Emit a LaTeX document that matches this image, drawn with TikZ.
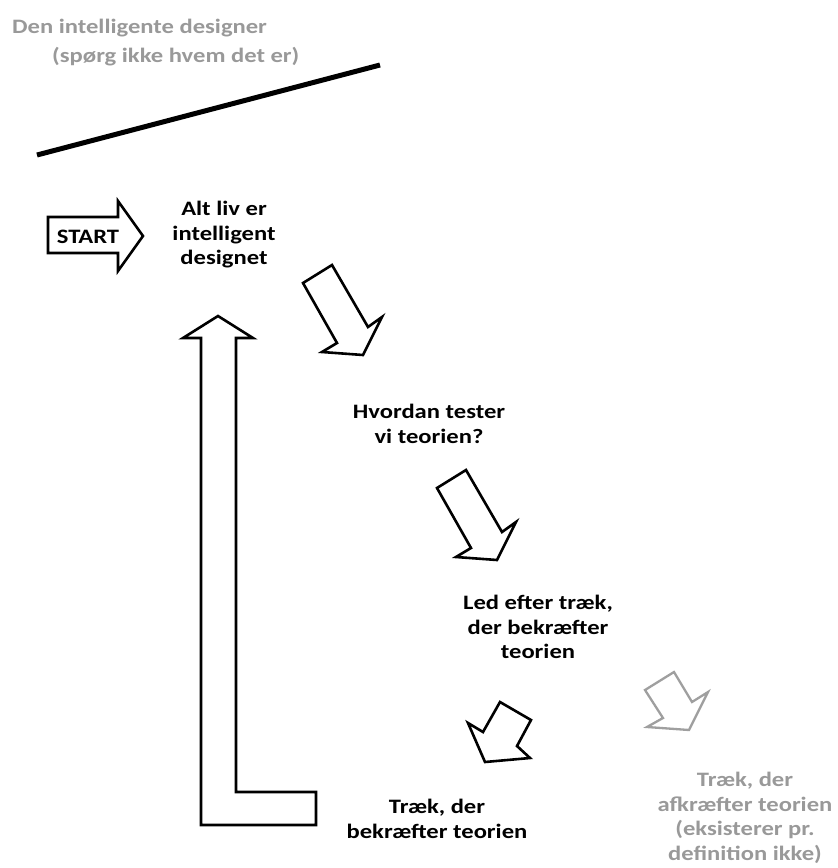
\documentclass[tikz,border=0pt]{standalone}
\usepackage{fontspec}
\setmainfont{Carlito}[FakeStretch=1.2]

\begin{document}
\begin{tikzpicture}[x=1pt,y=-1pt,
  label/.style={font=\fontsize{20.5}{24.5}\selectfont\bfseries, align=center, inner sep=0pt},
  faded/.style={text=gray!80},
  outline/.style={draw, line width=2.6pt, line join=miter, fill=white}]
\useasboundingbox (0,0) rectangle (838,868);

% The designer, up above
\node[label, faded, anchor=west] (designer) at (12,28) {Den intelligente designer};
\node[label, faded, anchor=west] (askno) at (52,57) {(spørg ikke hvem det er)};
\draw[line width=5pt] (37,155) -- (380,65);

% START arrow
\draw[outline] (48,217) -- (118,217) -- (118,201) -- (143,236) -- (118,271) -- (118,253) -- (48,253) -- cycle;
\node[label] (start) at (88,237) {START};

% Steps of the argument
\node[label] (alt) at (224,235) {Alt liv er\\intelligent\\designet};
\node[label] (test) at (429,424) {Hvordan tester\\vi teorien?};
\node[label] (look) at (538,627) {Led efter træk,\\der bekræfter\\teorien};
\node[label] (confirm) at (437,819) {Træk, der\\bekræfter teorien};
\node[label, faded] (refute) at (745,818) {Træk, der\\afkræfter teorien\\(eksisterer pr.\\definition ikke)};

% Down-right block arrows (same shape twice)
\foreach \dx/\dy in {0/0,134/205}
  \draw[outline, shift={(\dx,\dy)}] (303,283) -- (332,265) -- (368,327) -- (382,317) -- (363,355) -- (322,352) -- (337,343) -- cycle;

% Down-left arrow to the confirming traits
\draw[outline] (500,702) -- (531,720) -- (517,746) -- (530,758) -- (485,762) -- (468,723) -- (483,732) -- cycle;

% Grey arrow to the traits that refute
\draw[outline, draw=gray!75, line width=2.3pt] (645,690) -- (674,672) -- (692,702) -- (708,692) -- (689,730) -- (647,727) -- (663,718) -- cycle;

% Back up to the start (L-shaped arrow)
\draw[outline] (201,825) -- (316,825) -- (316,792) -- (236,792) -- (236,338) -- (253,338) -- (218,316) -- (183,338) -- (201,338) -- cycle;

\end{tikzpicture}
\end{document}
